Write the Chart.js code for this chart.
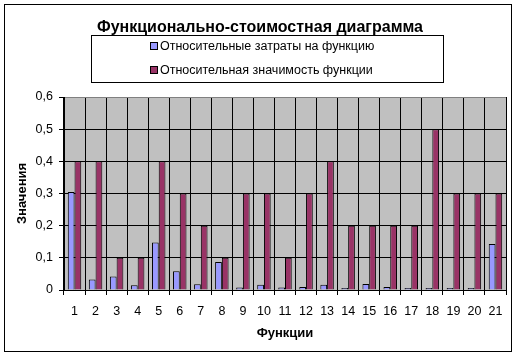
<!DOCTYPE html>
<html>
<head>
<meta charset="utf-8">
<script src="https://cdn.jsdelivr.net/npm/chart.js@4"></script>
<style>
  html, body { margin: 0; padding: 0; background: #fff; }
  #wrap { width: 525px; height: 358px; }
</style>
</head>
<body>
<div id="wrap"><canvas id="barChart" width="525" height="358"></canvas></div>
<script>
// Data
const labels = ['1','2','3','4','5','6','7','8','9','10','11','12','13','14','15','16','17','18','19','20','21'];
const costs = [0.305, 0.033, 0.042, 0.015, 0.148, 0.058, 0.018, 0.087, 0.008, 0.016, 0.008,
               0.009, 0.016, 0.006, 0.019, 0.009, 0.006, 0.006, 0.006, 0.006, 0.143];
const importance = [0.4, 0.4, 0.1, 0.1, 0.4, 0.3, 0.2, 0.1, 0.3, 0.3, 0.1,
                    0.3, 0.4, 0.2, 0.2, 0.2, 0.2, 0.5, 0.3, 0.3, 0.3];
const seriesNames = ['Относительные затраты на функцию', 'Относительная значимость функции'];

const FONT = 'Arial, "Liberation Sans", sans-serif';

// Frame, plot background and boxed legend
const excelLook = {
  id: 'excelLook',
  beforeDraw(chart) {
    const ctx = chart.ctx;
    const a = chart.chartArea;
    ctx.save();
    ctx.fillStyle = '#ffffff';
    ctx.fillRect(0, 0, chart.width, chart.height);
    ctx.fillStyle = '#c0c0c0';
    ctx.fillRect(a.left, a.top, a.right - a.left, a.bottom - a.top);
    ctx.restore();
  },
  afterDraw(chart) {
    const ctx = chart.ctx;
    ctx.save();
    ctx.strokeStyle = '#000';
    ctx.lineWidth = 1;
    ctx.strokeRect(4.5, 4.5, 507, 347);

    // legend
    ctx.strokeRect(91.5, 35.5, 352, 47);
    ctx.font = '12.5px ' + FONT;
    ctx.textBaseline = 'middle';
    const rows = [46.5, 70.5];
    chart.data.datasets.forEach((ds, i) => {
      ctx.fillStyle = ds.backgroundColor;
      ctx.fillRect(150.5, rows[i] - 4, 7, 7);
      ctx.strokeRect(150.5, rows[i] - 4, 7, 7);
      ctx.fillStyle = '#000';
      ctx.fillText(ds.label, 160, rows[i]);
    });
    ctx.restore();
  }
};

const data = {
  labels: labels,
  datasets: [{
    label: seriesNames[0],
    data: costs,
    backgroundColor: '#9999ff',
    borderColor: '#000',
    borderWidth: 1
  }, {
    label: seriesNames[1],
    data: importance,
    backgroundColor: '#993366',
    borderColor: '#000',
    borderWidth: 1
  }]
};

const config = {
  type: 'bar',
  data,
  plugins: [excelLook],
  options: {
    responsive: false,
    animation: false,
    layout: { padding: { top: 4, left: 14, right: 19, bottom: 7 } },
    datasets: {
      bar: { categoryPercentage: 0.64, barPercentage: 1 }
    },
    plugins: {
      legend: { display: false },
      tooltip: { enabled: false },
      title: {
        display: true,
        text: 'Функционально-стоимостная диаграмма',
        color: '#000',
        font: { family: FONT, size: 16, weight: 'bold', lineHeight: 1.2 },
        padding: { top: 14, bottom: 59.8 }
      }
    },
    scales: {
      x: {
        afterFit(scale) { scale.height = 61; },
        grid: {
          offset: true,
          color: ctx => ctx.index === labels.length ? '#808080' : '#000',
          tickColor: '#000',
          tickLength: 5
        },
        border: { color: '#000' },
        ticks: {
          color: '#000',
          padding: 9,
          maxRotation: 0,
          autoSkip: false,
          font: { family: FONT, size: 12.5 }
        },
        title: {
          display: true,
          text: 'Функции',
          color: '#000',
          font: { family: FONT, size: 13, weight: 'bold' },
          padding: { top: 0, bottom: 10 }
        }
      },
      y: {
        min: 0,
        max: 0.6,
        afterFit(scale) { scale.width = 50; },
        grid: {
          color: ctx => ctx.tick && ctx.tick.value >= 0.6 ? '#808080' : '#000',
          tickColor: '#000',
          tickLength: 5
        },
        border: { color: '#000' },
        ticks: {
          stepSize: 0.1,
          color: '#000',
          padding: 6,
          font: { family: FONT, size: 12.5 },
          callback: v => v === 0 ? '0' : v.toFixed(1).replace('.', ',')
        },
        title: {
          display: true,
          text: 'Значения',
          color: '#000',
          font: { family: FONT, size: 13, weight: 'bold' },
          padding: { top: 1, bottom: 0 }
        }
      }
    }
  }
};

const barChart = new Chart(document.getElementById('barChart'), config);
</script>
</body>
</html>
